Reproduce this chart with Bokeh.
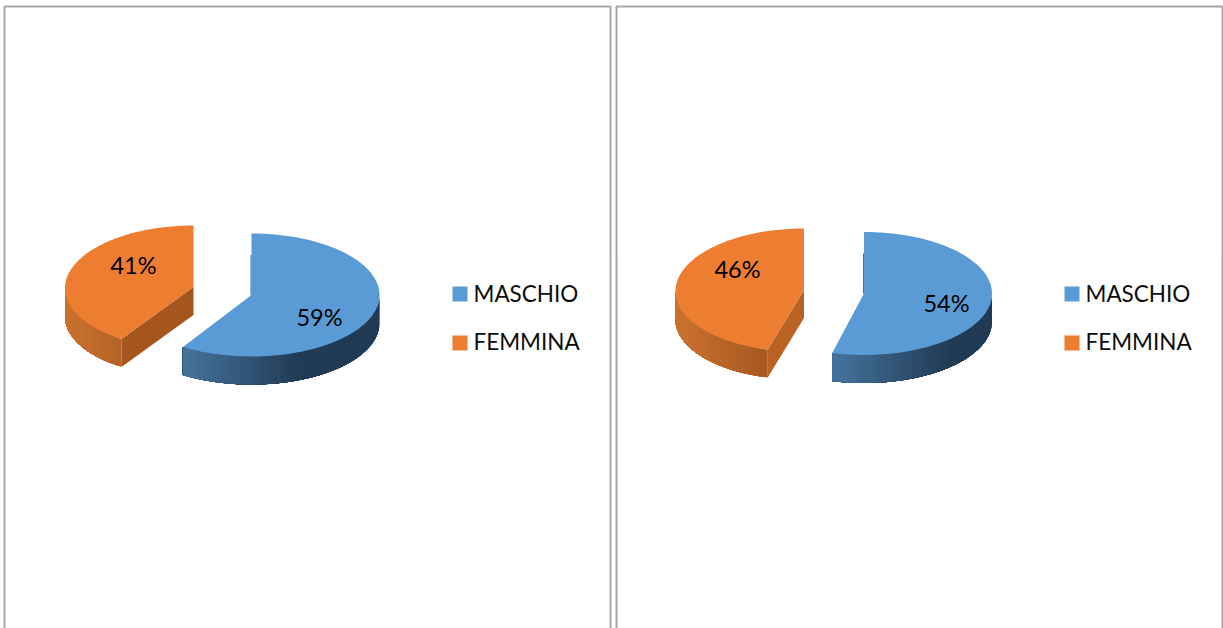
import numpy as np
from bokeh.embed import file_html
from bokeh.resources import INLINE
from bokeh.plotting import figure
from bokeh.models import Range1d
from bokeh.core.properties import value

# ---- data ----
categories = ["MASCHIO", "FEMMINA"]
male_share = [59, 54]
female_share = [41, 46]

# ---- layout (page pixels) ----
W, H = 1223, 628
RX, RY, DEPTH = 128.0, 61.5, 28.0
male_centers = [(251.0, 294.5), (863.5, 293.0)]
female_centers = [(193.0, 286.5), (803.5, 289.5)]
male_label_xy = [(319, 316.5), (946, 302.5)]
female_label_xy = [(133, 264.5), (737, 268.5)]
legend_x = [452, 1064]
legend_y = [293.5, 342.5]
legend_text_y = [292.5, 340.5]
panels = [(4, 610), (616, 1222)]
cut_colors = ["#A5561F", "#B96224"]

BLUE, ORANGE = "#5B9BD5", "#ED7D31"
FONT = value("Lato")

p = figure(width=W, height=H, x_range=Range1d(0, W), y_range=Range1d(H, 0),
           toolbar_location=None, output_backend="svg", min_border=0,
           outline_line_color=None)
p.axis.visible = False
p.grid.visible = False


def mix(c0, c1, t):
    a = np.array([int(c0[i:i + 2], 16) for i in (1, 3, 5)], float)
    b = np.array([int(c1[i:i + 2], 16) for i in (1, 3, 5)], float)
    r = a + (b - a) * min(max(t, 0), 1)
    return "#%02x%02x%02x" % tuple(int(round(v)) for v in r)


def wedge(cx, cy, start_pct, end_pct, top_color, side0, side1, span, cut=None, rx=RX, skew=0.0):
    def rim(t):
        # skew: the front of the wedge leans left, as the perspective of the original does
        return cx + rx * np.sin(t) - skew * (1 - np.cos(t)) / 2, cy - RY * np.cos(t)

    t0, t1 = np.radians(start_pct * 3.6), np.radians(end_pct * 3.6)
    # cut face from the centre to the front rim point
    if cut is not None:
        ex, ey = rim(t0)
        p.patch([cx, ex, ex, cx], [cy, ey, ey + DEPTH, cy + DEPTH],
                fill_color=cut, line_color=None)
    # outer wall, only the front half of the ellipse can be seen;
    # each slice reaches to the end of the wall and the next one paints over it
    a, b = max(t0, np.pi / 2), min(t1, 3 * np.pi / 2)
    edges = np.linspace(a, b, 41)
    xmin = min(rim(t)[0] for t in edges)
    xs, ys, cols = [], [], []
    for u in edges[:-1]:
        run = np.linspace(u, b, 60)
        rx_, ry_ = rim(run)
        xs.append([*rx_, *rx_[::-1]])
        ys.append([*ry_, *(ry_[::-1] + DEPTH)])
        cols.append(mix(side0, side1, (rim(u)[0] - xmin) / span))
    p.patches(xs, ys, fill_color=cols, line_color=None)
    # top face
    arc = np.linspace(t0, t1, 120)
    ax, ay = rim(arc)
    p.patch([cx, *ax], [cy, *ay], fill_color=top_color, line_color=None)


for i in range(2):
    m, f = male_share[i], female_share[i]
    mcx, mcy = male_centers[i]
    fcx, fcy = female_centers[i]
    wedge(mcx, mcy, 0, m, BLUE, "#47759F", "#213A55", 120)
    p.line([mcx - 0.5, mcx - 0.5], [mcy - 40, mcy], line_color="#3C6E9E", line_width=1)
    wedge(fcx, fcy, m, m + f, ORANGE, "#CB7230", "#A5561F", 100, cut=cut_colors[i], rx=126.0, skew=5.0)

    lx, ly = male_label_xy[i]
    p.text([lx], [ly], text=[f"{m}%"], text_font=FONT, text_font_size="23.5px",
           text_color="#000000", text_align="center", text_baseline="middle")
    lx, ly = female_label_xy[i]
    p.text([lx], [ly], text=[f"{f}%"], text_font=FONT, text_font_size="23.5px",
           text_color="#000000", text_align="center", text_baseline="middle")

    for cat, col, y, ty in zip(categories, [BLUE, ORANGE], legend_y, legend_text_y):
        p.rect([legend_x[i] + 7.5], [y], width=15, height=15, fill_color=col, line_color=None)
        p.text([legend_x[i] + 21], [ty], text=[cat], text_font=FONT, text_font_size="22.5px",
               text_color="#0D0D0D", text_align="left", text_baseline="middle")

    x0, x1 = panels[i]
    p.line([x0, x0, x1, x1], [H, 6, 6, H], line_color="#A6A6A6", line_width=2)

open("out.html", "w").write(file_html(p, INLINE))
